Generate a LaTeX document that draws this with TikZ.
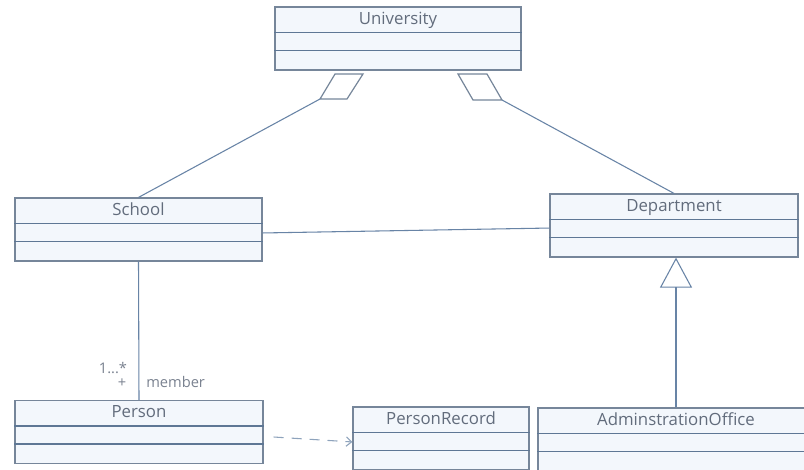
\documentclass[tikz,border=0pt]{standalone}
\usepackage{fontspec}
\setmainfont{Open Sans}
\usetikzlibrary{arrows.meta,positioning,calc}
\definecolor{ClsLine} {RGB}{118,134,154}
\definecolor{ClsFill} {RGB}{243,247,252}
\definecolor{ClsText} {RGB}{ 98,108,124}
\definecolor{ConnLine}{RGB}{104,132,166}
\tikzset{
  %% class boxes (three compartments)
  clsbox/.style={rectangle,draw=ClsLine,fill=ClsFill,line width=0.9pt,
                 minimum height=47.25pt,inner sep=0pt},
  clsdiv/.style={draw=ConnLine!90!black,line width=0.9pt},
  clstitle/.style={font=\fontsize{12.6}{14}\selectfont,text=ClsText,
                   inner sep=0pt,anchor=base},
  %% connectors
  assoc/.style={draw=ConnLine,line width=0.8pt},
  aggr/.style={draw=ClsLine,line width=0.9pt,fill=white},
  genarr/.style={-{Triangle[open,length=22.5pt,width=24pt]},
                 draw=ConnLine,line width=0.8pt},
  deparr/.style={-{Straight Barb[length=4pt,width=7pt]},dashed,
                 dash pattern=on 7.5pt off 6pt,draw=ConnLine!75,line width=0.8pt},
  rolelbl/.style={font=\fontsize{11}{13}\selectfont,text=ClsText!85,inner sep=0pt},
}

\begin{document}
\begin{tikzpicture}[x=0.75pt,y=-0.75pt]
    \useasboundingbox (0,0) rectangle (804,469);
    \clip (0,0) rectangle (804,469);
    \fill[white] (0,0) rectangle (804,469);

    %% ── classes ─────────────────────────────────────────────
    \node[clsbox,minimum width=184.5pt]  (univ)    at (398,38.5)   {};
    \node[clsbox,minimum width=185.25pt] (school)  at (138.5,229.5) {};
    \node[clsbox,minimum width=186pt]    (dept)    at (674,225.5)  {};
    \node[clsbox,minimum width=186pt]    (person)  at (139,432)    {};
    \node[clsbox,minimum width=132pt]    (precord) at (441,438.5)  {};
    \node[clsbox,minimum width=207pt]    (admin)   at (676,439.5)  {};

    %% compartment lines
    \foreach \c in {univ,school,dept,person,precord,admin}{
      \draw[clsdiv] ([yshift=-19.5pt]\c.north west) -- ([yshift=-19.5pt]\c.north east);
      \draw[clsdiv] ([yshift=-33pt]\c.north west)   -- ([yshift=-33pt]\c.north east);
    }

    %% class names
    \foreach \c/\t in {univ/University,school/School,dept/Department,
                       person/Person,precord/PersonRecord,
                       admin/AdminstrationOffice}{
      \node[clstitle] (\c-t) at ([yshift=-13.5pt]\c.north) {\t};
    }

    %% ── aggregation: University ◇── School / Department ─────
    \coordinate (dLa) at (335,74);
    \coordinate (dLb) at (363,74);
    \coordinate (dLc) at (347,99);
    \coordinate (dLd) at (320,99);
    \draw[aggr] (dLa) -- (dLb) -- (dLc) -- (dLd) -- cycle;
    \draw[assoc] (dLd) -- (school.north);

    \coordinate (dRa) at (458,74);
    \coordinate (dRb) at (487,74);
    \coordinate (dRc) at (502,100);
    \coordinate (dRd) at (473,100);
    \draw[aggr] (dRa) -- (dRb) -- (dRc) -- (dRd) -- cycle;
    \draw[assoc] (dRc) -- (dept.north);

    %% ── School ── Department ───────────────────────────────
    \draw[assoc] ([yshift=-2.6pt]school.east) -- ([yshift=-1.9pt]dept.west);

    %% ── School ── Person (member) ──────────────────────────
    \draw[assoc] (school.south) -- (person.north);
    \node[rolelbl] (mult) at (113,368) {1...*};
    \node[rolelbl] (vis)  at (122,383) {+};
    \node[rolelbl,anchor=west] (role) at (146,382) {member};

    %% ── Person - - > PersonRecord ──────────────────────────
    \draw[deparr] ([xshift=7.5pt,yshift=-3.75pt]person.east)
               -- ([yshift=-2.6pt]precord.west);

    %% ── AdminstrationOffice ──▷ Department ─────────────────
    \draw[genarr] ([xshift=1.5pt]dept.south |- admin.north)
               -- ([xshift=1.5pt]dept.south);
\end{tikzpicture}
\end{document}
